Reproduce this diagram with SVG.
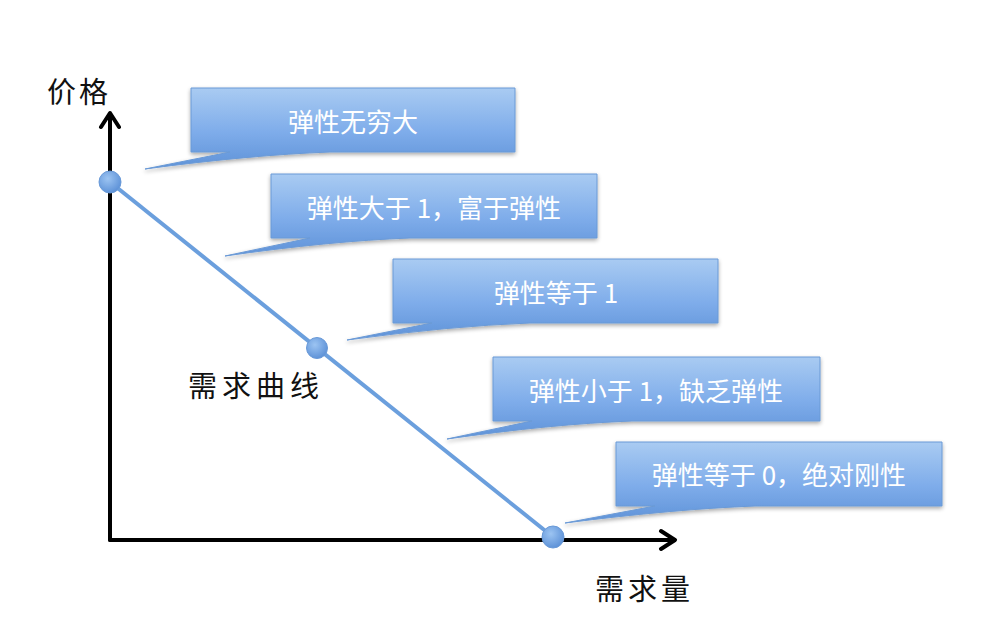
<svg xmlns="http://www.w3.org/2000/svg" width="1000" height="627" viewBox="0 0 1000 627">
<defs>
<linearGradient id="cg" x1="0" y1="0" x2="0" y2="1">
<stop offset="0" stop-color="#a9cbf2"/>
<stop offset="0.55" stop-color="#7eacea"/>
<stop offset="1" stop-color="#5e92d8"/>
</linearGradient>
<radialGradient id="dg" cx="0.4" cy="0.35" r="0.7">
<stop offset="0" stop-color="#9cc4f2"/>
<stop offset="1" stop-color="#5a8fd6"/>
</radialGradient>
<filter id="sh" x="-10%" y="-20%" width="120%" height="150%">
<feGaussianBlur in="SourceAlpha" stdDeviation="2"/>
<feOffset dx="0" dy="2" result="b"/>
<feComponentTransfer><feFuncA type="linear" slope="0.35"/></feComponentTransfer>
<feMerge><feMergeNode/><feMergeNode in="SourceGraphic"/></feMerge>
</filter>
</defs>
<style>
.call{fill:url(#cg);stroke:#6b9ad6;stroke-width:1;filter:url(#sh)}
.ct{font-family:"Noto Sans CJK SC","Liberation Sans",sans-serif;font-size:26px;fill:#ffffff;text-anchor:middle;dominant-baseline:central}
.lb{font-family:"Noto Sans CJK SC","Liberation Sans",sans-serif;font-size:29px;fill:#111111}
.ax{stroke:#000;stroke-width:4;fill:none;stroke-linecap:round;stroke-linejoin:round}
.dot{fill:url(#dg);stroke:#6a9ad8;stroke-width:1}
</style>
<rect width="1000" height="627" fill="#ffffff"/>
<g id="connectors">
<path class="ax" d="M110,540 V114 M101,127 L110,113 L119,127"/>
<path class="ax" d="M110,540 H674 M661,531 L675,540 L661,549"/>
<line x1="110" y1="182" x2="553" y2="537" stroke="#6b9fdd" stroke-width="4"/>
</g>
<g id="dot1"><circle class="dot" cx="110" cy="182" r="11"/></g>
<g id="dot2"><circle class="dot" cx="317" cy="348" r="10.5"/></g>
<g id="dot3"><circle class="dot" cx="553" cy="537" r="11"/></g>
<g id="callout1">
<path class="call" d="M191,88 H515 V152 H330 Q250,155 145,169 L230,152 H191 Z"/>
<text class="ct" x="353" y="120">弹性无穷大</text>
</g>
<g id="callout2">
<path class="call" d="M271,174 H597 V238 H410 Q330,241 225,256 L310,238 H271 Z"/>
<text class="ct" x="434" y="206">弹性大于 1，富于弹性</text>
</g>
<g id="callout3">
<path class="call" d="M393,259 H718 V323 H530 Q450,326 347,340 L432,323 H393 Z"/>
<text class="ct" x="556" y="291">弹性等于 1</text>
</g>
<g id="callout4">
<path class="call" d="M493,357 H820 V421 H632 Q552,424 447,439 L532,421 H493 Z"/>
<text class="ct" x="656" y="389">弹性小于 1，缺乏弹性</text>
</g>
<g id="callout5">
<path class="call" d="M616,442 H942 V506 H755 Q675,509 565,523 L655,506 H616 Z"/>
<text class="ct" x="779" y="473">弹性等于 0，绝对刚性</text>
</g>
<g id="labels">
<text class="lb" x="47" y="103" letter-spacing="3">价格</text>
<text class="lb" x="188" y="397" letter-spacing="5">需求曲线</text>
<text class="lb" x="595" y="600" letter-spacing="4">需求量</text>
</g>
</svg>
